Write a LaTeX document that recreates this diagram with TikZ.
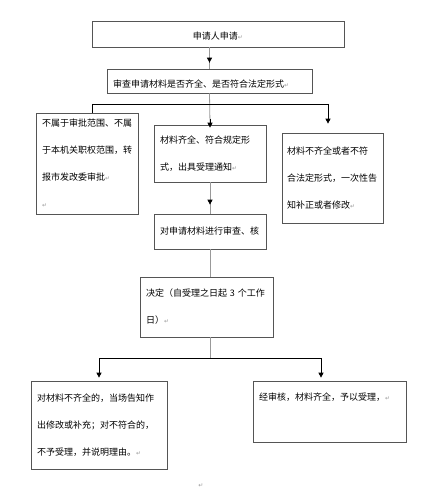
\documentclass[tikz,border=0pt]{standalone}
\usepackage{fontspec}
\usepackage{xcolor}
\usetikzlibrary{arrows.meta,calc}
\newfontfamily\cjk{Noto Sans CJK SC}
\newfontfamily\symfont{DejaVu Sans}
\definecolor{frame1}{HTML}{555555}
\definecolor{link1}{HTML}{999999}
\newcommand{\retmark}{{\symfont\fontsize{6}{6}\selectfont\textcolor{link1}{↵}}}

\begin{document}
\begin{tikzpicture}[x=1pt,y=-1pt,
  flowbox/.style={draw=frame1,line width=0.7pt,align=left,inner xsep=6pt,
    font=\cjk\fontsize{9}{27}\selectfont},
  graylink/.style={link1,line width=0.8pt},
  blacklink/.style={black,line width=0.8pt},
  tip/.style={-{Triangle[width=5pt,length=5pt]}}]

\useasboundingbox (0,0) rectangle (439,500);

\node[flowbox,align=center,minimum width=252pt,minimum height=26pt,text height=11pt] (apply) at (218,34) {申请人申请\retmark};
\node[flowbox,minimum width=205pt,minimum height=24pt,text width=193pt,text height=14pt] (check) at (209.5,81) {审查申请材料是否齐全、是否符合法定形式\retmark};

\node[flowbox,minimum width=102pt,minimum height=101pt,text width=90pt] (reject) at (87,163.5) {不属于审批范围、不属\\于本机关职权范围，转\\报市发改委审批\retmark\\\retmark};
\node[flowbox,minimum width=112pt,minimum height=57pt,text width=100pt] (accept) at (210,153.5) {材料齐全、符合规定形\\式，出具受理通知\retmark};
\node[flowbox,minimum width=101pt,minimum height=90pt,text width=91pt,inner xsep=5pt] (notice) at (332.5,178) {材料不齐全或者不符\\合法定形式，一次性告\\知补正或者修改\retmark};

\node[flowbox,minimum width=112pt,minimum height=35pt,text width=100pt] (review) at (210,231.5) {对申请材料进行审查、核};
\node[flowbox,minimum width=133pt,minimum height=60pt,text width=121pt] (decide) at (206.5,307) {决定（自受理之日起 3 个工作\\日）\retmark};

\node[flowbox,minimum width=136pt,minimum height=88pt,text width=124pt] (refuse) at (99,425) {对材料不齐全的，当场告知作\\出修改或补充；对不符合的，\\不予受理，并说明理由。\retmark};
\node[flowbox,minimum width=153pt,minimum height=61pt,text width=141pt,text depth=30pt] (grant) at (329.5,411.5) {经审核，材料齐全，予以受理，\retmark};

\node (endmark) at (201,486) {\retmark};

\coordinate (forkL) at (92,104);
\coordinate (forkR) at (328,104);
\coordinate (forkM) at (210,358);
\coordinate (forkA) at (99,358);
\coordinate (forkB) at (321,358);
\coordinate (topstem) at (check.north |- apply.south);
\coordinate (midstem) at (review.south |- decide.north);
\coordinate (lowstem) at (forkM |- decide.south);

\draw[graylink] (topstem) -- (check.north);
\draw[blacklink,tip,shorten >=6pt] ($(topstem)!0.7!(check.north)$) -- (check.north);
\draw[graylink] (check.south) -- (accept.north);
\draw[blacklink,tip] ($(accept.north)+(0,-6)$) -- ($(accept.north)+(0,3)$);
\draw[blacklink] (forkL) -- (forkR);
\draw[blacklink] (forkL) -- (forkL |- reject.north);
\draw[blacklink,tip,shorten >=9pt] (forkR) -- (forkR |- notice.north);

\draw[graylink] (accept.south) -- (review.north);
\draw[blacklink,tip,shorten >=9pt] ($(accept.south)!0.6!(review.north)$) -- (review.north);
\draw[graylink] (review.south) -- (midstem);
\draw[graylink] (lowstem) -- (forkM);
\draw[blacklink] (forkA) -- (forkB);
\draw[blacklink,tip,shorten >=3pt] (forkA) -- (forkA |- refuse.north);
\draw[blacklink,tip,shorten >=3pt] (forkB) -- (forkB |- grant.north);

\end{tikzpicture}
\end{document}
